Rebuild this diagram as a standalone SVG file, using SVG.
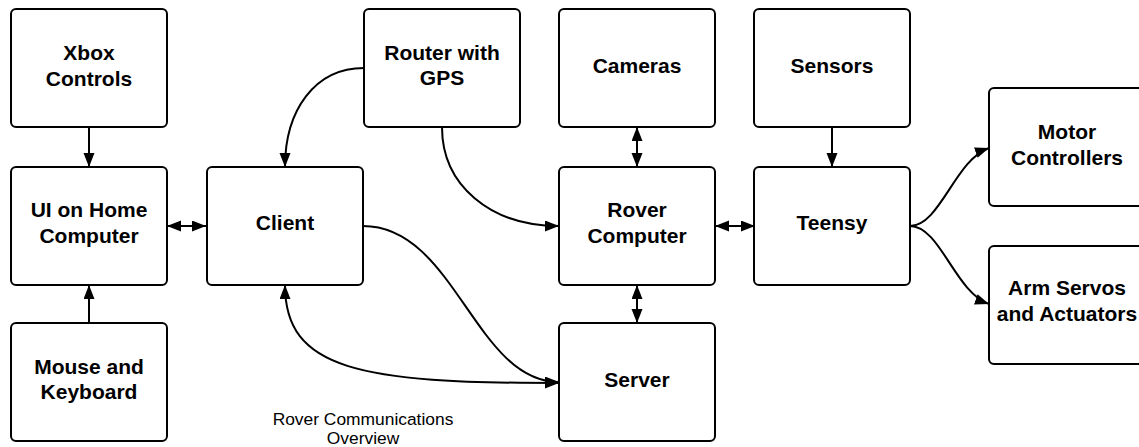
<svg xmlns="http://www.w3.org/2000/svg" width="1139" height="447" viewBox="0 0 1139 447">
  <style>
    .box { fill: #ffffff; stroke: #000000; stroke-width: 2; }
    .lbl { font-family: "Liberation Sans", Arial, sans-serif; font-weight: bold; font-size: 21px; fill: #000000; text-anchor: middle; }
    .cap { font-family: "Liberation Sans", Arial, sans-serif; font-size: 17.4px; fill: #000000; text-anchor: middle; }
    .wire { fill: none; stroke: #000000; stroke-width: 2; }
  </style>
  <defs>
    <marker id="arrow" markerUnits="userSpaceOnUse" markerWidth="15" markerHeight="12" refX="14" refY="5.5" orient="auto-start-reverse">
      <path d="M0,0 L14,5.5 L0,11 Z" fill="#000000"/>
    </marker>
  </defs>

  <rect width="1139" height="447" fill="#ffffff"/>

  <!-- connectors -->
  <g id="connectors">
    <!-- Xbox Controls -> UI -->
    <path class="wire" d="M89,127 L89,167" marker-end="url(#arrow)"/>
    <!-- Mouse and Keyboard -> UI -->
    <path class="wire" d="M89,323 L89,285" marker-end="url(#arrow)"/>
    <!-- UI <-> Client -->
    <path class="wire" d="M167,226 L206,226" marker-start="url(#arrow)" marker-end="url(#arrow)"/>
    <!-- Router -> Client -->
    <path class="wire" d="M364,68 C315,68 285,110 285,167" marker-end="url(#arrow)"/>
    <!-- Router -> Rover Computer -->
    <path class="wire" d="M442,127 C442,185 490,226 559,226" marker-end="url(#arrow)"/>
    <!-- Client -> Server -->
    <path class="wire" d="M363,226 C455,226 475,382 559,382" marker-end="url(#arrow)"/>
    <!-- Server <-> Client (lower arc) -->
    <path class="wire" d="M285,285 C285,370 360,383 559,383" marker-start="url(#arrow)" marker-end="url(#arrow)"/>
    <!-- Cameras <-> Rover Computer -->
    <path class="wire" d="M637,127 L637,167" marker-start="url(#arrow)" marker-end="url(#arrow)"/>
    <!-- Rover Computer <-> Server -->
    <path class="wire" d="M637,285 L637,323" marker-start="url(#arrow)" marker-end="url(#arrow)"/>
    <!-- Rover Computer <-> Teensy -->
    <path class="wire" d="M715,226 L755,226" marker-start="url(#arrow)" marker-end="url(#arrow)"/>
    <!-- Sensors -> Teensy -->
    <path class="wire" d="M832,127 L832,167" marker-end="url(#arrow)"/>
    <!-- Teensy -> Motor Controllers -->
    <path class="wire" d="M910,226 C940,226 955,160 989,148" marker-end="url(#arrow)"/>
    <!-- Teensy -> Arm Servos and Actuators -->
    <path class="wire" d="M910,226 C940,226 955,292 989,304" marker-end="url(#arrow)"/>
  </g>

  <!-- nodes -->
  <g id="xbox">
    <rect class="box" x="11" y="9" width="156" height="118" rx="5"/>
    <text class="lbl" x="89" y="59.5">Xbox</text>
    <text class="lbl" x="89" y="85.5">Controls</text>
  </g>
  <g id="ui">
    <rect class="box" x="11" y="167" width="156" height="118" rx="5"/>
    <text class="lbl" x="89" y="217">UI on Home</text>
    <text class="lbl" x="89" y="242.5">Computer</text>
  </g>
  <g id="mouse">
    <rect class="box" x="11" y="323" width="156" height="118" rx="5"/>
    <text class="lbl" x="89" y="373.5">Mouse and</text>
    <text class="lbl" x="89" y="399">Keyboard</text>
  </g>
  <g id="client">
    <rect class="box" x="207" y="167" width="156" height="118" rx="5"/>
    <text class="lbl" x="285" y="230">Client</text>
  </g>
  <g id="router">
    <rect class="box" x="364" y="9" width="156" height="118" rx="5"/>
    <text class="lbl" x="442" y="59.5">Router with</text>
    <text class="lbl" x="442" y="85">GPS</text>
  </g>
  <g id="cameras">
    <rect class="box" x="559" y="9" width="156" height="118" rx="5"/>
    <text class="lbl" x="637" y="72.5">Cameras</text>
  </g>
  <g id="rover">
    <rect class="box" x="559" y="167" width="156" height="118" rx="5"/>
    <text class="lbl" x="637" y="217">Rover</text>
    <text class="lbl" x="637" y="242.5">Computer</text>
  </g>
  <g id="server">
    <rect class="box" x="559" y="323" width="156" height="118" rx="5"/>
    <text class="lbl" x="637" y="386.5">Server</text>
  </g>
  <g id="sensors">
    <rect class="box" x="754" y="9" width="156" height="118" rx="5"/>
    <text class="lbl" x="832" y="72.5">Sensors</text>
  </g>
  <g id="teensy">
    <rect class="box" x="754" y="167" width="156" height="118" rx="5"/>
    <text class="lbl" x="832" y="230">Teensy</text>
  </g>
  <g id="motor">
    <rect class="box" x="989" y="88" width="156" height="118" rx="5"/>
    <text class="lbl" x="1067" y="139">Motor</text>
    <text class="lbl" x="1067" y="165">Controllers</text>
  </g>
  <g id="arm">
    <rect class="box" x="989" y="246" width="156" height="118" rx="5"/>
    <text class="lbl" x="1067" y="295">Arm Servos</text>
    <text class="lbl" x="1067" y="321">and Actuators</text>
  </g>

  <!-- caption -->
  <g id="caption">
    <text class="cap" x="363" y="425">Rover Communications</text>
    <text class="cap" x="363" y="444">Overview</text>
  </g>
</svg>
